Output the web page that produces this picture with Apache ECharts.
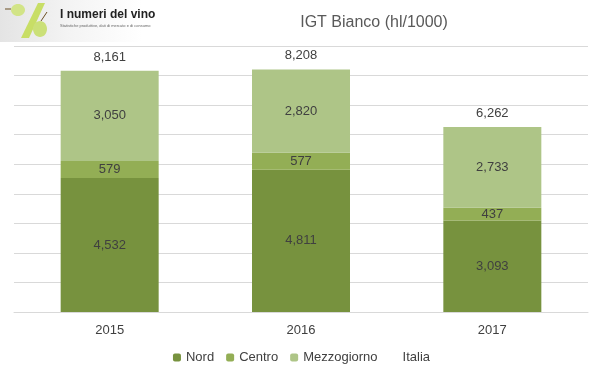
<!DOCTYPE html>
<html><head><meta charset="utf-8">
<script src="https://cdn.jsdelivr.net/npm/echarts@6/dist/echarts.min.js"></script>
<style>html,body{margin:0;padding:0;background:#fff}#c{width:603px;height:378px}</style>
</head><body><div id="c"></div>
<script>
const categories = ['2015', '2016', '2017'];
const nord = [4532, 4811, 3093];
const centro = [579, 577, 437];
const mezzogiorno = [3050, 2820, 2733];
const italia = [8161, 8208, 6262];

const fmt = v => Number(v).toLocaleString('en-US');
const font = 'Liberation Sans, Arial, sans-serif';
const lbl = {show: true, position: 'inside', color: '#404040', fontSize: 13, fontFamily: font,
  formatter: p => fmt(p.value)};

const chart = echarts.init(document.getElementById('c'));
chart.setOption({
  animation: false,
  title: {text: 'IGT Bianco (hl/1000)', left: 369, top: 10, textAlign: 'center',
    textStyle: {fontSize: 16, fontWeight: 'normal', color: '#595959', fontFamily: font}},
  legend: {bottom: 9, left: 'center', itemWidth: 8, itemHeight: 8, itemGap: 12,
    textStyle: {fontSize: 13, color: '#404040', fontFamily: font},
    data: ['Nord', 'Centro', 'Mezzogiorno', {name: 'Italia', itemStyle: {color: 'rgba(0,0,0,0)'}}]},
  grid: {left: 14, right: 15, top: 46, bottom: 66, containLabel: false},
  xAxis: {type: 'category', data: categories,
    axisLine: {lineStyle: {color: '#d9d9d9'}}, axisTick: {show: false},
    axisLabel: {color: '#404040', fontSize: 13, fontFamily: font, margin: 12}},
  yAxis: {type: 'value', min: 0, max: 9000, interval: 1000, axisLabel: {show: false},
    axisLine: {show: false}, axisTick: {show: false},
    splitLine: {lineStyle: {color: '#d9d9d9'}}},
  series: [
    {name: 'Nord', type: 'bar', stack: 't', data: nord, barWidth: 98, itemStyle: {color: '#77923e'}, label: lbl},
    {name: 'Centro', type: 'bar', stack: 't', data: centro, itemStyle: {color: '#93ae55'}, label: lbl},
    {name: 'Mezzogiorno', type: 'bar', stack: 't', data: mezzogiorno, itemStyle: {color: '#aec587'}, label: lbl},
    {name: 'Italia', type: 'bar', data: italia, barWidth: 98, barGap: '-100%', z: 1,
      itemStyle: {color: 'rgba(0,0,0,0)'},
      label: {show: true, position: 'top', distance: 7, color: '#404040', fontSize: 13, fontFamily: font,
        formatter: p => fmt(p.value)}}
  ],
  graphic: [
    {type: 'rect', left: 0, top: 0, shape: {width: 142, height: 42},
      style: {fill: new echarts.graphic.LinearGradient(0, 0, 1, 0, [{offset: 0, color: '#e4e4e4'}, {offset: 0.5, color: '#f4f4f4'}, {offset: 1, color: '#ffffff'}])}},
    {type: 'polygon', shape: {points: [[21, 38], [29, 38], [45, 3], [38, 3]]}, style: {fill: '#c8de66'}},
    {type: 'ellipse', shape: {cx: 18, cy: 10, rx: 7, ry: 6}, style: {fill: '#d2e487'}},
    {type: 'ellipse', shape: {cx: 40, cy: 29, rx: 7, ry: 8}, style: {fill: '#cbe078'}},
    {type: 'line', shape: {x1: 41, y1: 21, x2: 47, y2: 12}, style: {stroke: '#6b4e22', lineWidth: 1}},
    {type: 'line', shape: {x1: 11, y1: 9, x2: 5, y2: 9}, style: {stroke: '#6b4e22', lineWidth: 1}},
    {type: 'text', left: 60, top: 9, style: {text: 'I numeri del vino', fontSize: 12, fill: '#222', fontFamily: 'Liberation Sans Narrow, Arial Narrow, sans-serif', fontWeight: 'bold'}},
    {type: 'text', left: 60, top: 24, style: {text: 'Statistiche produttive, dati di mercato e di consumo', fontSize: 4, fill: '#666', fontFamily: font}}
  ]
});
</script></body></html>
